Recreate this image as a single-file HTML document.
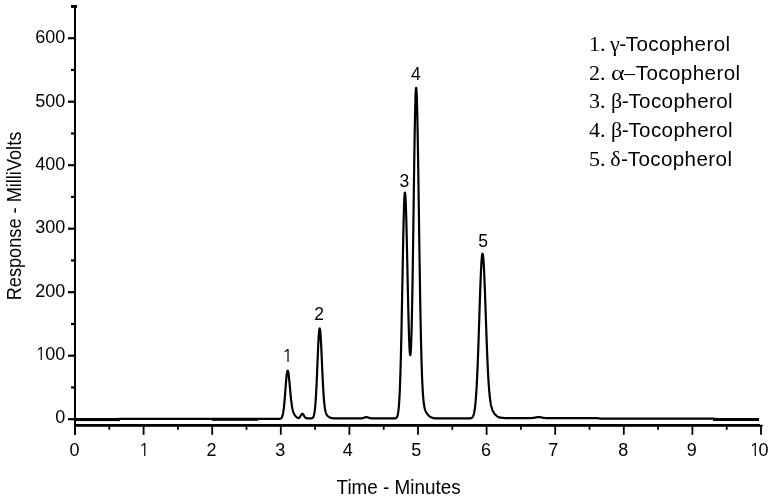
<!DOCTYPE html>
<html><head><meta charset="utf-8"><title>Tocopherol chromatogram</title>
<style>html,body{margin:0;padding:0;background:#fff;width:770px;height:497px;overflow:hidden}svg{display:block;will-change:transform}</style>
</head><body>
<svg width="770" height="497" viewBox="0 0 770 497">
<rect width="770" height="497" fill="#fff"/>
<rect x="74" y="5" width="2" height="430" fill="#000"/>
<rect x="68" y="418.10" width="6.5" height="2.2" fill="#000"/>
<rect x="71" y="386.35" width="3.5" height="2.2" fill="#000"/>
<rect x="68" y="354.60" width="6.5" height="2.2" fill="#000"/>
<rect x="71" y="322.85" width="3.5" height="2.2" fill="#000"/>
<rect x="68" y="291.10" width="6.5" height="2.2" fill="#000"/>
<rect x="71" y="259.35" width="3.5" height="2.2" fill="#000"/>
<rect x="68" y="227.60" width="6.5" height="2.2" fill="#000"/>
<rect x="71" y="195.85" width="3.5" height="2.2" fill="#000"/>
<rect x="68" y="164.10" width="6.5" height="2.2" fill="#000"/>
<rect x="71" y="132.35" width="3.5" height="2.2" fill="#000"/>
<rect x="68" y="100.60" width="6.5" height="2.2" fill="#000"/>
<rect x="71" y="68.85" width="3.5" height="2.2" fill="#000"/>
<rect x="68" y="37.10" width="6.5" height="2.2" fill="#000"/>
<rect x="71" y="5" width="6" height="2.9" fill="#000"/>
<rect x="74" y="424" width="686" height="2.8" fill="#000"/>
<rect x="760" y="424.8" width="2.8" height="1.6" fill="#000"/>
<rect x="108.40" y="426" width="1.8" height="3.8" fill="#000"/>
<rect x="142.70" y="426" width="1.8" height="8.8" fill="#000"/>
<rect x="177.00" y="426" width="1.8" height="3.8" fill="#000"/>
<rect x="211.30" y="426" width="1.8" height="8.8" fill="#000"/>
<rect x="245.60" y="426" width="1.8" height="3.8" fill="#000"/>
<rect x="279.90" y="426" width="1.8" height="8.8" fill="#000"/>
<rect x="314.20" y="426" width="1.8" height="3.8" fill="#000"/>
<rect x="348.50" y="426" width="1.8" height="8.8" fill="#000"/>
<rect x="382.80" y="426" width="1.8" height="3.8" fill="#000"/>
<rect x="417.10" y="426" width="1.8" height="8.8" fill="#000"/>
<rect x="451.40" y="426" width="1.8" height="3.8" fill="#000"/>
<rect x="485.70" y="426" width="1.8" height="8.8" fill="#000"/>
<rect x="520.00" y="426" width="1.8" height="3.8" fill="#000"/>
<rect x="554.30" y="426" width="1.8" height="8.8" fill="#000"/>
<rect x="588.60" y="426" width="1.8" height="3.8" fill="#000"/>
<rect x="622.90" y="426" width="1.8" height="8.8" fill="#000"/>
<rect x="657.20" y="426" width="1.8" height="3.8" fill="#000"/>
<rect x="691.50" y="426" width="1.8" height="8.8" fill="#000"/>
<rect x="725.80" y="426" width="1.8" height="3.8" fill="#000"/>
<rect x="760.10" y="426" width="1.8" height="8.8" fill="#000"/>
<rect x="76" y="418.3" width="44" height="2.80" fill="#000"/>
<rect x="212" y="418.0" width="46" height="2.80" fill="#000"/>
<rect x="713" y="418.0" width="46" height="3.00" fill="#000"/>
<path d="M76.00,419.20 L80.00,419.20 L84.00,419.20 L88.00,419.20 L92.00,419.20 L96.00,419.20 L100.00,419.20 L104.00,419.20 L108.00,419.20 L112.00,419.20 L116.00,419.20 L120.00,418.85 L124.00,418.85 L128.00,418.85 L132.00,418.85 L136.00,418.85 L140.00,418.85 L144.00,418.85 L148.00,418.85 L152.00,418.85 L156.00,418.85 L160.00,418.85 L164.00,418.85 L168.00,418.85 L172.00,418.85 L176.00,418.85 L180.00,418.85 L184.00,418.85 L188.00,418.85 L192.00,418.85 L196.00,418.85 L200.00,418.85 L204.00,418.85 L208.00,418.85 L212.00,418.85 L216.00,418.85 L220.00,418.85 L224.00,418.85 L228.00,418.85 L232.00,418.85 L236.00,418.85 L240.00,418.85 L244.00,418.85 L248.00,418.85 L252.00,418.85 L256.00,418.85 L260.00,418.85 L264.00,418.85 L268.00,418.85 L272.00,418.85 L272.25,418.85 L272.50,418.85 L272.75,418.85 L273.00,418.85 L273.25,418.85 L273.50,418.85 L273.75,418.85 L274.00,418.85 L274.25,418.85 L274.50,418.85 L274.75,418.85 L275.00,418.85 L275.25,418.85 L275.50,418.85 L275.75,418.85 L276.00,418.85 L276.25,418.85 L276.50,418.85 L276.75,418.85 L277.00,418.85 L277.25,418.85 L277.50,418.85 L277.75,418.85 L278.00,418.85 L278.25,418.84 L278.50,418.84 L278.75,418.84 L279.00,418.83 L279.25,418.82 L279.50,418.80 L279.75,418.77 L280.00,418.74 L280.25,418.68 L280.50,418.61 L280.75,418.50 L281.00,418.35 L281.25,418.15 L281.50,417.88 L281.75,417.53 L282.00,417.07 L282.25,416.47 L282.50,415.72 L282.75,414.79 L283.00,413.64 L283.25,412.27 L283.50,410.63 L283.75,408.72 L284.00,406.53 L284.25,404.07 L284.50,401.34 L284.75,398.39 L285.00,395.24 L285.25,391.98 L285.50,388.65 L285.75,385.36 L286.00,382.19 L286.25,379.25 L286.50,376.61 L286.75,374.37 L287.00,372.62 L287.25,371.39 L287.50,370.75 L287.75,370.66 L288.00,371.11 L288.25,372.08 L288.50,373.51 L288.75,375.35 L289.00,377.55 L289.25,380.01 L289.50,382.66 L289.75,385.44 L290.00,388.25 L290.25,391.05 L290.50,393.76 L290.75,396.35 L291.00,398.77 L291.25,400.99 L291.50,403.00 L291.75,404.81 L292.00,406.41 L292.25,407.81 L292.50,409.04 L292.75,410.10 L293.00,411.03 L293.25,411.83 L293.50,412.53 L293.75,413.15 L294.00,413.69 L294.25,414.17 L294.50,414.61 L294.75,415.00 L295.00,415.36 L295.25,415.69 L295.50,416.00 L295.75,416.28 L296.00,416.54 L296.25,416.78 L296.50,417.01 L296.75,417.21 L297.00,417.39 L297.25,417.56 L297.50,417.70 L297.75,417.83 L298.00,417.93 L298.25,418.00 L298.50,418.03 L298.75,418.03 L299.00,417.98 L299.25,417.88 L299.50,417.71 L299.75,417.49 L300.00,416.80 L300.25,416.45 L300.50,416.05 L300.75,415.62 L301.00,415.18 L301.25,414.76 L301.50,414.39 L301.75,414.09 L302.00,413.89 L302.25,413.82 L302.50,413.85 L302.75,413.98 L303.00,414.21 L303.25,414.50 L303.50,414.85 L303.75,415.24 L304.00,415.65 L304.25,416.06 L304.50,416.45 L304.75,416.82 L305.00,417.14 L305.25,417.43 L305.50,417.67 L305.75,417.86 L306.00,418.02 L306.25,418.14 L306.50,418.23 L306.75,418.30 L307.00,418.35 L307.25,418.38 L307.50,418.41 L307.75,418.42 L308.00,418.43 L308.25,418.44 L308.50,418.44 L308.75,418.45 L309.00,418.45 L309.25,418.45 L309.50,418.45 L309.75,418.44 L310.00,418.44 L310.25,418.44 L310.50,418.43 L310.75,418.42 L311.00,418.40 L311.25,418.38 L311.50,418.34 L311.75,418.29 L312.00,418.21 L312.25,418.10 L312.50,417.95 L312.75,417.74 L313.00,417.45 L313.25,417.05 L313.50,416.53 L313.75,415.84 L314.00,414.95 L314.25,413.82 L314.50,412.39 L314.75,410.63 L315.00,408.48 L315.25,405.89 L315.50,402.84 L315.75,399.30 L316.00,395.24 L316.25,390.69 L316.50,385.66 L316.75,380.21 L317.00,374.41 L317.25,368.38 L317.50,362.25 L317.75,356.16 L318.00,350.29 L318.25,344.80 L318.50,339.87 L318.75,335.66 L319.00,332.31 L319.25,329.95 L319.50,328.66 L319.75,328.46 L320.00,329.33 L320.25,331.21 L320.50,334.05 L320.75,337.73 L321.00,342.12 L321.25,347.08 L321.50,352.45 L321.75,358.07 L322.00,363.79 L322.25,369.47 L322.50,374.98 L322.75,380.21 L323.00,385.08 L323.25,389.55 L323.50,393.57 L323.75,397.14 L324.00,400.26 L324.25,402.96 L324.50,405.26 L324.75,407.21 L325.00,408.84 L325.25,410.20 L325.50,411.33 L325.75,412.26 L326.00,413.03 L326.25,413.67 L326.50,414.21 L326.75,414.67 L327.00,415.06 L327.25,415.39 L327.50,415.69 L327.75,415.96 L328.00,416.20 L328.25,416.41 L328.50,416.61 L328.75,416.79 L329.00,416.96 L329.25,417.12 L329.50,417.26 L329.75,417.39 L330.00,417.51 L330.25,417.62 L330.50,417.72 L330.75,417.81 L331.00,417.89 L331.25,417.96 L331.50,418.02 L331.75,418.08 L332.00,418.13 L332.25,418.18 L332.50,418.22 L332.75,418.25 L333.00,418.28 L333.25,418.31 L333.50,418.33 L333.75,418.35 L334.00,418.37 L334.25,418.38 L334.50,418.39 L334.75,418.40 L335.00,418.41 L335.25,418.42 L335.50,418.42 L335.75,418.43 L336.00,418.43 L336.25,418.44 L336.50,418.44 L336.75,418.44 L337.00,418.44 L337.25,418.44 L337.50,418.45 L337.75,418.45 L338.00,418.45 L338.25,418.45 L338.50,418.45 L338.75,418.45 L339.00,418.45 L339.25,418.45 L339.50,418.45 L339.75,418.45 L340.00,418.45 L340.25,418.45 L340.50,418.45 L340.75,418.45 L341.00,418.45 L341.25,418.45 L341.50,418.45 L341.75,418.45 L342.00,418.45 L342.25,418.45 L342.50,418.45 L342.75,418.45 L343.00,418.45 L343.25,418.45 L343.50,418.45 L343.75,418.45 L344.00,418.45 L344.25,418.45 L344.50,418.45 L344.75,418.45 L345.00,418.45 L345.25,418.45 L345.50,418.45 L345.75,418.45 L346.00,418.45 L346.25,418.45 L346.50,418.45 L350.50,418.45 L354.50,418.45 L354.75,418.45 L355.00,418.45 L355.25,418.45 L355.50,418.45 L355.75,418.45 L356.00,418.45 L356.25,418.45 L356.50,418.45 L356.75,418.45 L357.00,418.45 L357.25,418.45 L357.50,418.45 L357.75,418.45 L358.00,418.45 L358.25,418.45 L358.50,418.45 L358.75,418.45 L359.00,418.45 L359.25,418.44 L359.50,418.44 L359.75,418.44 L360.00,418.43 L360.25,418.42 L360.50,418.41 L360.75,418.40 L361.00,418.39 L361.25,418.37 L361.50,418.34 L361.75,418.31 L362.00,418.27 L362.25,418.23 L362.50,418.18 L362.75,418.12 L363.00,418.06 L363.25,417.98 L363.50,417.90 L363.75,417.82 L364.00,417.73 L364.25,417.64 L364.50,417.55 L364.75,417.47 L365.00,417.39 L365.25,417.32 L365.50,417.25 L365.75,417.21 L366.00,417.17 L366.25,417.15 L366.50,417.15 L366.75,417.17 L367.00,417.20 L367.25,417.24 L367.50,417.30 L367.75,417.37 L368.00,417.45 L368.25,417.54 L368.50,417.63 L368.75,417.72 L369.00,417.80 L369.25,417.89 L369.50,417.97 L369.75,418.04 L370.00,418.11 L370.25,418.17 L370.50,418.22 L370.75,418.27 L371.00,418.30 L371.25,418.34 L371.50,418.36 L371.75,418.38 L372.00,418.40 L372.25,418.41 L372.50,418.42 L372.75,418.43 L373.00,418.44 L373.25,418.44 L373.50,418.44 L373.75,418.45 L374.00,418.45 L374.25,418.45 L374.50,418.45 L374.75,418.45 L375.00,418.45 L375.25,418.45 L375.50,418.45 L375.75,418.45 L376.00,418.45 L376.25,418.45 L376.50,418.45 L376.75,418.45 L377.00,418.45 L377.25,418.45 L377.50,418.45 L377.75,418.45 L378.00,418.45 L378.25,418.45 L378.50,418.45 L378.75,418.45 L379.00,418.45 L379.25,418.45 L379.50,418.45 L379.75,418.45 L383.75,418.45 L387.75,418.45 L391.75,418.45 L392.00,418.45 L392.25,418.45 L392.50,418.45 L392.75,418.45 L393.00,418.45 L393.25,418.45 L393.50,418.44 L393.75,418.44 L394.00,418.43 L394.25,418.42 L394.50,418.41 L394.75,418.39 L395.00,418.36 L395.25,418.32 L395.50,418.26 L395.75,418.17 L396.00,418.05 L396.25,417.88 L396.50,417.65 L396.75,417.34 L397.00,416.92 L397.25,416.37 L397.50,415.63 L397.75,414.68 L398.00,413.46 L398.25,411.91 L398.50,409.96 L398.75,407.53 L399.00,404.56 L399.25,400.95 L399.50,396.62 L399.75,391.49 L400.00,385.49 L400.25,378.55 L400.50,370.63 L400.75,361.71 L401.00,351.80 L401.25,340.94 L401.50,329.19 L401.75,316.70 L402.00,303.60 L402.25,290.11 L402.50,276.45 L402.75,262.91 L403.00,249.76 L403.25,237.32 L403.50,225.88 L403.75,215.75 L404.00,207.19 L404.25,200.45 L404.50,195.70 L404.75,193.09 L405.00,192.65 L405.25,194.22 L405.50,197.70 L405.75,202.97 L406.00,209.90 L406.25,218.29 L406.50,227.91 L406.75,238.51 L407.00,249.84 L407.25,261.62 L407.50,273.57 L407.75,285.43 L408.00,296.96 L408.25,307.93 L408.50,318.12 L408.75,327.36 L409.00,335.49 L409.25,342.36 L409.50,347.85 L409.75,351.86 L410.00,354.31 L410.25,355.13 L410.50,354.24 L410.75,351.60 L411.00,347.18 L411.25,340.97 L411.50,332.96 L411.75,323.18 L412.00,311.69 L412.25,298.60 L412.50,284.02 L412.75,268.15 L413.00,251.19 L413.25,233.44 L413.50,215.19 L413.75,196.79 L414.00,178.63 L414.25,161.11 L414.50,144.64 L414.75,129.62 L415.00,116.43 L415.25,105.41 L415.50,96.87 L415.75,91.02 L416.00,88.04 L416.25,87.95 L416.50,90.51 L416.75,95.64 L417.00,103.20 L417.25,113.01 L417.50,124.85 L417.75,138.42 L418.00,153.44 L418.25,169.58 L418.50,186.51 L418.75,203.92 L419.00,221.48 L419.25,238.93 L419.50,256.00 L419.75,272.47 L420.00,288.16 L420.25,302.93 L420.50,316.67 L420.75,329.30 L421.00,340.75 L421.25,351.04 L421.50,360.18 L421.75,368.23 L422.00,375.25 L422.25,381.32 L422.50,386.53 L422.75,390.97 L423.00,394.72 L423.25,397.88 L423.50,400.52 L423.75,402.73 L424.00,404.57 L424.25,406.10 L424.50,407.39 L424.75,408.47 L425.00,409.38 L425.25,410.16 L425.50,410.83 L425.75,411.42 L426.00,411.94 L426.25,412.41 L426.50,412.84 L426.75,413.23 L427.00,413.60 L427.25,413.94 L427.50,414.26 L427.75,414.56 L428.00,414.85 L428.25,415.12 L428.50,415.38 L428.75,415.62 L429.00,415.85 L429.25,416.07 L429.50,416.27 L429.75,416.46 L430.00,416.64 L430.25,416.81 L430.50,416.96 L430.75,417.10 L431.00,417.24 L431.25,417.36 L431.50,417.47 L431.75,417.57 L432.00,417.67 L432.25,417.75 L432.50,417.83 L432.75,417.90 L433.00,417.97 L433.25,418.02 L433.50,418.08 L433.75,418.12 L434.00,418.16 L434.25,418.20 L434.50,418.23 L434.75,418.26 L435.00,418.29 L435.25,418.31 L435.50,418.33 L435.75,418.34 L436.00,418.36 L436.25,418.37 L436.50,418.38 L436.75,418.39 L437.00,418.40 L437.25,418.41 L437.50,418.42 L437.75,418.42 L438.00,418.43 L438.25,418.43 L438.50,418.43 L438.75,418.44 L439.00,418.44 L439.25,418.44 L439.50,418.44 L439.75,418.44 L440.00,418.44 L440.25,418.45 L440.50,418.45 L440.75,418.45 L441.00,418.45 L441.25,418.45 L441.50,418.45 L441.75,418.45 L442.00,418.45 L442.25,418.45 L442.50,418.45 L442.75,418.45 L443.00,418.45 L443.25,418.45 L443.50,418.45 L443.75,418.45 L444.00,418.45 L444.25,418.45 L444.50,418.45 L444.75,418.45 L445.00,418.45 L445.25,418.45 L445.50,418.45 L445.75,418.45 L446.00,418.45 L446.25,418.45 L446.50,418.45 L446.75,418.45 L447.00,418.45 L447.25,418.45 L447.50,418.45 L447.75,418.45 L448.00,418.45 L448.25,418.45 L448.50,418.45 L448.75,418.45 L449.00,418.45 L449.25,418.45 L449.50,418.45 L449.75,418.45 L450.00,418.45 L450.25,418.45 L450.50,418.45 L454.50,418.45 L454.75,418.45 L455.00,418.45 L455.25,418.45 L455.50,418.45 L455.75,418.45 L456.00,418.45 L456.25,418.45 L456.50,418.45 L456.75,418.45 L457.00,418.45 L457.25,418.45 L457.50,418.45 L457.75,418.45 L458.00,418.45 L458.25,418.45 L458.50,418.45 L458.75,418.45 L459.00,418.45 L459.25,418.45 L459.50,418.45 L459.75,418.45 L460.00,418.45 L460.25,418.45 L460.50,418.45 L460.75,418.45 L461.00,418.45 L461.25,418.45 L461.50,418.45 L461.75,418.45 L462.00,418.45 L462.25,418.45 L462.50,418.45 L462.75,418.45 L463.00,418.45 L463.25,418.45 L463.50,418.45 L463.75,418.45 L464.00,418.45 L464.25,418.45 L464.50,418.45 L464.75,418.45 L465.00,418.45 L465.25,418.45 L465.50,418.45 L465.75,418.45 L466.00,418.45 L466.25,418.45 L466.50,418.45 L466.75,418.45 L467.00,418.45 L467.25,418.45 L467.50,418.45 L467.75,418.45 L468.00,418.44 L468.25,418.44 L468.50,418.44 L468.75,418.43 L469.00,418.43 L469.25,418.42 L469.50,418.40 L469.75,418.39 L470.00,418.36 L470.25,418.33 L470.50,418.29 L470.75,418.24 L471.00,418.17 L471.25,418.08 L471.50,417.97 L471.75,417.82 L472.00,417.64 L472.25,417.41 L472.50,417.12 L472.75,416.76 L473.00,416.31 L473.25,415.77 L473.50,415.11 L473.75,414.31 L474.00,413.35 L474.25,412.20 L474.50,410.85 L474.75,409.26 L475.00,407.41 L475.25,405.26 L475.50,402.78 L475.75,399.96 L476.00,396.76 L476.25,393.17 L476.50,389.15 L476.75,384.70 L477.00,379.82 L477.25,374.49 L477.50,368.73 L477.75,362.56 L478.00,356.00 L478.25,349.09 L478.50,341.88 L478.75,334.43 L479.00,326.81 L479.25,319.10 L479.50,311.39 L479.75,303.78 L480.00,296.35 L480.25,289.23 L480.50,282.50 L480.75,276.28 L481.00,270.66 L481.25,265.72 L481.50,261.55 L481.75,258.21 L482.00,255.77 L482.25,254.25 L482.50,253.68 L482.75,254.06 L483.00,255.39 L483.25,257.62 L483.50,260.73 L483.75,264.64 L484.00,269.29 L484.25,274.60 L484.50,280.47 L484.75,286.81 L485.00,293.53 L485.25,300.51 L485.50,307.68 L485.75,314.92 L486.00,322.17 L486.25,329.33 L486.50,336.34 L486.75,343.13 L487.00,349.65 L487.25,355.85 L487.50,361.68 L487.75,367.11 L488.00,372.13 L488.25,376.74 L488.50,380.95 L488.75,384.76 L489.00,388.19 L489.25,391.27 L489.50,394.01 L489.75,396.45 L490.00,398.60 L490.25,400.50 L490.50,402.17 L490.75,403.64 L491.00,404.93 L491.25,406.06 L491.50,407.06 L491.75,407.95 L492.00,408.74 L492.25,409.44 L492.50,410.08 L492.75,410.65 L493.00,411.17 L493.25,411.65 L493.50,412.09 L493.75,412.50 L494.00,412.89 L494.25,413.25 L494.50,413.59 L494.75,413.91 L495.00,414.21 L495.25,414.50 L495.50,414.78 L495.75,415.04 L496.00,415.29 L496.25,415.52 L496.50,415.74 L496.75,415.95 L497.00,416.15 L497.25,416.33 L497.50,416.51 L497.75,416.67 L498.00,416.82 L498.25,416.97 L498.50,417.10 L498.75,417.22 L499.00,417.34 L499.25,417.45 L499.50,417.54 L499.75,417.63 L500.00,417.37 L500.25,417.44 L500.50,417.51 L500.75,417.57 L501.00,417.63 L501.25,417.68 L501.50,417.73 L501.75,417.77 L502.00,417.81 L502.25,417.84 L502.50,417.87 L502.75,417.90 L503.00,417.93 L503.25,417.95 L503.50,417.97 L503.75,417.98 L504.00,418.00 L504.25,418.01 L504.50,418.02 L504.75,418.03 L505.00,418.04 L505.25,418.05 L505.50,418.06 L505.75,418.06 L506.00,418.07 L506.25,418.07 L506.50,418.08 L506.75,418.08 L507.00,418.08 L507.25,418.09 L507.50,418.09 L507.75,418.09 L508.00,418.09 L508.25,418.09 L508.50,418.09 L508.75,418.10 L509.00,418.10 L509.25,418.10 L509.50,418.10 L509.75,418.10 L510.00,418.10 L510.25,418.10 L510.50,418.10 L510.75,418.10 L511.00,418.10 L511.25,418.10 L511.50,418.10 L511.75,418.10 L512.00,418.10 L512.25,418.10 L512.50,418.10 L512.75,418.10 L513.00,418.10 L513.25,418.10 L513.50,418.10 L513.75,418.10 L514.00,418.10 L514.25,418.10 L514.50,418.10 L514.75,418.10 L515.00,418.10 L515.25,418.10 L515.50,418.10 L515.75,418.10 L516.00,418.10 L516.25,418.10 L516.50,418.10 L516.75,418.10 L517.00,418.10 L517.25,418.10 L517.50,418.10 L517.75,418.10 L518.00,418.10 L518.25,418.10 L518.50,418.10 L518.75,418.10 L519.00,418.10 L519.25,418.10 L519.50,418.10 L519.75,418.10 L520.00,418.10 L524.00,418.10 L524.25,418.10 L524.50,418.10 L524.75,418.10 L525.00,418.10 L525.25,418.10 L525.50,418.10 L525.75,418.10 L526.00,418.10 L526.25,418.10 L526.50,418.10 L526.75,418.10 L527.00,418.10 L527.25,418.10 L527.50,418.10 L527.75,418.10 L528.00,418.10 L528.25,418.10 L528.50,418.10 L528.75,418.10 L529.00,418.09 L529.25,418.09 L529.50,418.09 L529.75,418.09 L530.00,418.08 L530.25,418.08 L530.50,418.07 L530.75,418.07 L531.00,418.06 L531.25,418.05 L531.50,418.04 L531.75,418.03 L532.00,418.01 L532.25,417.99 L532.50,417.97 L532.75,417.95 L533.00,417.92 L533.25,417.90 L533.50,417.86 L533.75,417.83 L534.00,417.79 L534.25,417.75 L534.50,417.71 L534.75,417.66 L535.00,417.61 L535.25,417.56 L535.50,417.51 L535.75,417.46 L536.00,417.41 L536.25,417.36 L536.50,417.32 L536.75,417.27 L537.00,417.23 L537.25,417.20 L537.50,417.17 L537.75,417.14 L538.00,417.12 L538.25,417.11 L538.50,417.10 L538.75,417.10 L539.00,417.11 L539.25,417.12 L539.50,417.14 L539.75,417.17 L540.00,417.20 L540.25,417.24 L540.50,417.28 L540.75,417.33 L541.00,417.37 L541.25,417.42 L541.50,417.47 L541.75,417.52 L542.00,417.57 L542.25,417.62 L542.50,417.67 L542.75,417.72 L543.00,417.76 L543.25,417.80 L543.50,417.84 L543.75,417.87 L544.00,417.90 L544.25,417.93 L544.50,417.96 L544.75,417.98 L545.00,418.00 L545.25,418.01 L545.50,418.03 L545.75,418.04 L546.00,418.05 L546.25,418.06 L546.50,418.07 L546.75,418.08 L547.00,418.08 L547.25,418.08 L547.50,418.09 L547.75,418.09 L548.00,418.09 L548.25,418.09 L548.50,418.10 L548.75,418.10 L549.00,418.10 L549.25,418.10 L549.50,418.10 L549.75,418.10 L550.00,418.10 L550.25,418.10 L550.50,418.10 L550.75,418.10 L551.00,418.10 L551.25,418.10 L551.50,418.10 L551.75,418.10 L552.00,418.10 L552.25,418.10 L552.50,418.10 L552.75,418.10 L553.00,418.10 L553.25,418.10 L553.50,418.10 L553.75,418.10 L554.00,418.10 L554.25,418.10 L554.50,418.10 L554.75,418.10 L555.00,418.10 L555.25,418.10 L555.50,418.10 L555.75,418.10 L556.00,418.10 L556.25,418.10 L556.50,418.10 L556.75,418.10 L560.75,418.10 L564.75,418.10 L568.75,418.10 L572.75,418.10 L576.75,418.10 L580.75,418.10 L584.75,418.10 L588.75,418.10 L592.75,418.10 L596.75,418.10 L600.75,418.70 L604.75,418.70 L608.75,418.70 L612.75,418.70 L616.75,418.70 L620.75,418.70 L624.75,418.70 L628.75,418.70 L632.75,418.70 L636.75,418.70 L640.75,418.70 L644.75,418.70 L648.75,418.70 L652.75,418.70 L656.75,418.70 L660.75,418.70 L664.75,418.70 L668.75,418.70 L672.75,418.70 L676.75,418.70 L680.75,418.70 L684.75,418.70 L688.75,418.70 L692.75,418.70 L696.75,418.70 L700.75,418.70 L704.75,418.70 L708.75,418.70 L712.75,418.70 L716.75,419.20 L720.75,419.20 L724.75,419.20 L728.75,419.20 L732.75,419.20 L736.75,419.20 L740.75,419.20 L744.75,419.20 L748.75,419.20 L752.75,419.20 L756.75,419.20" fill="none" stroke="#000" stroke-width="2.2" stroke-linejoin="round" stroke-linecap="butt"/>
<text x="65.2" y="423.10" font-size="18" text-anchor="end" font-family="'Liberation Sans', Arial, sans-serif">0</text>
<text x="35.2" y="359.60" font-size="18" font-family="NanumGothic, 'Liberation Sans', sans-serif">1</text>
<text x="65.2" y="359.60" font-size="18" text-anchor="end" font-family="'Liberation Sans', Arial, sans-serif">00</text>
<text x="65.2" y="297.10" font-size="18" text-anchor="end" font-family="'Liberation Sans', Arial, sans-serif">200</text>
<text x="65.2" y="232.60" font-size="18" text-anchor="end" font-family="'Liberation Sans', Arial, sans-serif">300</text>
<text x="65.2" y="170.10" font-size="18" text-anchor="end" font-family="'Liberation Sans', Arial, sans-serif">400</text>
<text x="65.2" y="106.60" font-size="18" text-anchor="end" font-family="'Liberation Sans', Arial, sans-serif">500</text>
<text x="65.2" y="42.90" font-size="18" text-anchor="end" font-family="'Liberation Sans', Arial, sans-serif">600</text>
<text x="74.40" y="455.6" font-size="18" text-anchor="middle" font-family="'Liberation Sans', Arial, sans-serif">0</text>
<text x="138.7" y="455.6" font-size="18" font-family="NanumGothic, 'Liberation Sans', sans-serif">1</text>
<text x="211.60" y="455.6" font-size="18" text-anchor="middle" font-family="'Liberation Sans', Arial, sans-serif">2</text>
<text x="280.20" y="455.6" font-size="18" text-anchor="middle" font-family="'Liberation Sans', Arial, sans-serif">3</text>
<text x="347.80" y="455.6" font-size="18" text-anchor="middle" font-family="'Liberation Sans', Arial, sans-serif">4</text>
<text x="416.20" y="455.6" font-size="18" text-anchor="middle" font-family="'Liberation Sans', Arial, sans-serif">5</text>
<text x="486.00" y="455.6" font-size="18" text-anchor="middle" font-family="'Liberation Sans', Arial, sans-serif">6</text>
<text x="553.30" y="455.6" font-size="18" text-anchor="middle" font-family="'Liberation Sans', Arial, sans-serif">7</text>
<text x="623.20" y="455.6" font-size="18" text-anchor="middle" font-family="'Liberation Sans', Arial, sans-serif">8</text>
<text x="691.80" y="455.6" font-size="18" text-anchor="middle" font-family="'Liberation Sans', Arial, sans-serif">9</text>
<text x="749.2" y="455.6" font-size="18" font-family="NanumGothic, 'Liberation Sans', sans-serif">1</text>
<text x="758.5" y="455.6" font-size="18" font-family="'Liberation Sans', Arial, sans-serif">0</text>
<text x="336.6" y="493.7" font-size="19.4" font-family="'Liberation Sans', Arial, sans-serif" textLength="124" lengthAdjust="spacingAndGlyphs">Time - Minutes</text>
<text transform="translate(21,300.3) rotate(-90)" x="0" y="0" font-size="19.3" font-family="'Liberation Sans', Arial, sans-serif" textLength="168.6" lengthAdjust="spacingAndGlyphs">Response - MilliVolts</text>
<text x="281.9" y="361.8" font-size="18" font-family="NanumGothic, 'Liberation Sans', sans-serif">1</text>
<text x="319.0" y="320.0" font-size="17.5" text-anchor="middle" font-family="'Liberation Sans', Arial, sans-serif">2</text>
<text x="404.3" y="186.8" font-size="17.5" text-anchor="middle" font-family="'Liberation Sans', Arial, sans-serif">3</text>
<text x="415.9" y="79.7" font-size="17.5" text-anchor="middle" font-family="'Liberation Sans', Arial, sans-serif">4</text>
<text x="483.2" y="246.7" font-size="17.5" text-anchor="middle" font-family="'Liberation Sans', Arial, sans-serif">5</text>
<text x="589" y="50.9" font-size="22" font-family="'Liberation Serif', 'Times New Roman', serif">1.</text>
<text x="610.0" y="50.9" font-size="22" font-family="'Liberation Serif', 'Times New Roman', serif">γ</text>
<text x="619.2" y="50.9" font-size="21" font-family="'Liberation Sans', Arial, sans-serif">-</text>
<text x="625.8" y="50.9" font-size="20.6" font-family="'Liberation Sans', Arial, sans-serif" textLength="104.3" lengthAdjust="spacing">Tocopherol</text>
<text x="589" y="79.8" font-size="22" font-family="'Liberation Serif', 'Times New Roman', serif">2.</text>
<text x="611.0" y="79.8" font-size="22" font-family="'Liberation Serif', 'Times New Roman', serif" textLength="13.6" lengthAdjust="spacingAndGlyphs">α</text>
<text x="624.0" y="79.8" font-size="22" font-family="'Liberation Serif', 'Times New Roman', serif">–</text>
<text x="635.8" y="79.8" font-size="20.6" font-family="'Liberation Sans', Arial, sans-serif" textLength="104.3" lengthAdjust="spacing">Tocopherol</text>
<text x="589" y="107.8" font-size="22" font-family="'Liberation Serif', 'Times New Roman', serif">3.</text>
<text x="611.0" y="107.8" font-size="22" font-family="'Liberation Serif', 'Times New Roman', serif">β</text>
<text x="621.8" y="107.8" font-size="21" font-family="'Liberation Sans', Arial, sans-serif">-</text>
<text x="628.4" y="107.8" font-size="20.6" font-family="'Liberation Sans', Arial, sans-serif" textLength="104.3" lengthAdjust="spacing">Tocopherol</text>
<text x="589" y="136.6" font-size="22" font-family="'Liberation Serif', 'Times New Roman', serif">4.</text>
<text x="611.0" y="136.6" font-size="22" font-family="'Liberation Serif', 'Times New Roman', serif">β</text>
<text x="621.8" y="136.6" font-size="21" font-family="'Liberation Sans', Arial, sans-serif">-</text>
<text x="628.4" y="136.6" font-size="20.6" font-family="'Liberation Sans', Arial, sans-serif" textLength="104.3" lengthAdjust="spacing">Tocopherol</text>
<text x="589" y="165.6" font-size="22" font-family="'Liberation Serif', 'Times New Roman', serif">5.</text>
<text x="610.3" y="165.6" font-size="22" font-family="'Liberation Serif', 'Times New Roman', serif">δ</text>
<text x="621.1" y="165.6" font-size="21" font-family="'Liberation Sans', Arial, sans-serif">-</text>
<text x="627.7" y="165.6" font-size="20.6" font-family="'Liberation Sans', Arial, sans-serif" textLength="104.3" lengthAdjust="spacing">Tocopherol</text>
</svg>
</body></html>
